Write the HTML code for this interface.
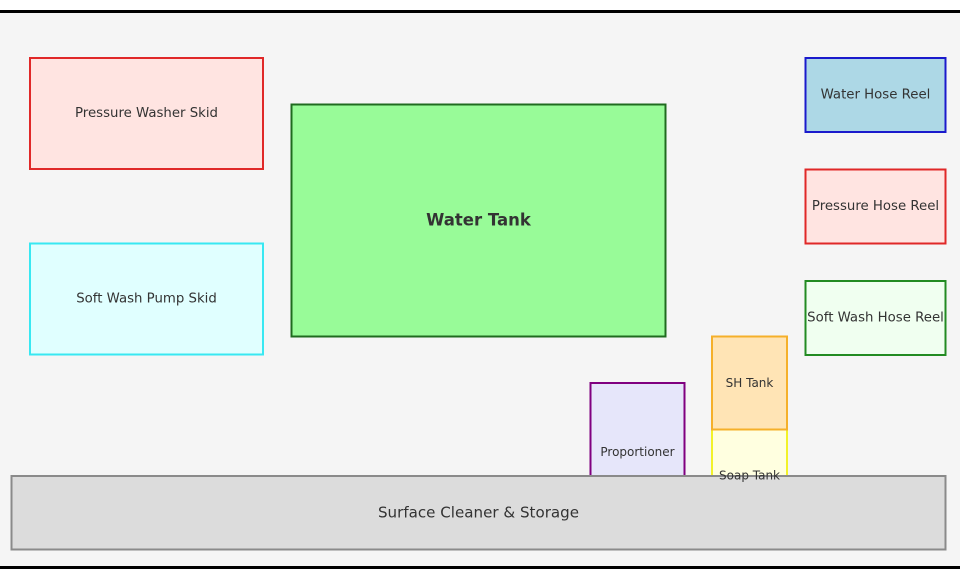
<!DOCTYPE html>
<html>
<head>
<meta charset="utf-8">
<style>
  html, body { margin: 0; padding: 0; background: #ffffff; }
  svg { display: block; }
  text { font-family: "DejaVu Sans", "Liberation Sans", sans-serif; fill: #333333; }
</style>
</head>
<body>
<svg width="960" height="580" viewBox="0 0 960 580" xmlns="http://www.w3.org/2000/svg">
  <rect x="0" y="0" width="960" height="580" fill="#ffffff"/>
  <!-- background panel -->
  <rect x="-5" y="11.5" width="970" height="556" fill="#f5f5f5" stroke="#000000" stroke-width="3"/>

  <!-- Pressure Washer Skid -->
  <rect x="30" y="58" width="233" height="111" fill="#ffe4e1" stroke="#e02828" stroke-width="2"/>
  <!-- Water Tank -->
  <rect x="291.5" y="104.5" width="374" height="232" fill="#98fb98" stroke="#1f6b1f" stroke-width="2"/>
  <!-- Soft Wash Pump Skid -->
  <rect x="30" y="243.5" width="233" height="111" fill="#e0ffff" stroke="#38e8f2" stroke-width="2"/>
  <!-- Water Hose Reel -->
  <rect x="805.5" y="58" width="140" height="74" fill="#add8e6" stroke="#1a1acc" stroke-width="2"/>
  <!-- Pressure Hose Reel -->
  <rect x="805.5" y="169.5" width="140" height="74" fill="#ffe4e1" stroke="#e02828" stroke-width="2"/>
  <!-- Soft Wash Hose Reel -->
  <rect x="805.5" y="281" width="140" height="74" fill="#f0fff0" stroke="#228b22" stroke-width="2"/>
  <!-- Proportioner -->
  <rect x="590.5" y="383" width="94" height="138" fill="#e6e6fa" stroke="#800080" stroke-width="2"/>
  <!-- Soap Tank -->
  <rect x="712" y="429.5" width="75" height="93" fill="#ffffe0" stroke="#f2f22a" stroke-width="2"/>
  <!-- SH Tank -->
  <rect x="712" y="336.5" width="75" height="93" fill="#ffe4b5" stroke="#f5b02a" stroke-width="2"/>
  <!-- Surface Cleaner & Storage -->
  <rect x="11.5" y="476" width="934" height="73.5" fill="#dcdcdc" stroke="#8a8a8a" stroke-width="2"/>

  <!-- labels -->
  <text x="146.5" y="113.5" font-size="13.3" text-anchor="middle" dominant-baseline="central">Pressure Washer Skid</text>
  <text x="478.5" y="220" font-size="16.5" font-weight="bold" text-anchor="middle" dominant-baseline="central">Water Tank</text>
  <text x="146.5" y="299" font-size="13.3" text-anchor="middle" dominant-baseline="central">Soft Wash Pump Skid</text>
  <text x="875.5" y="95" font-size="13.3" text-anchor="middle" dominant-baseline="central">Water Hose Reel</text>
  <text x="875.5" y="206.5" font-size="13.3" text-anchor="middle" dominant-baseline="central">Pressure Hose Reel</text>
  <text x="875.5" y="318" font-size="13.3" text-anchor="middle" dominant-baseline="central">Soft Wash Hose Reel</text>
  <text x="749.5" y="383" font-size="12" text-anchor="middle" dominant-baseline="central">SH Tank</text>
  <text x="637.5" y="452" font-size="12" text-anchor="middle" dominant-baseline="central">Proportioner</text>
  <text x="749.5" y="475.5" font-size="12" text-anchor="middle" dominant-baseline="central">Soap Tank</text>
  <text x="478.5" y="512.5" font-size="15.1" text-anchor="middle" dominant-baseline="central">Surface Cleaner &amp; Storage</text>
</svg>
</body>
</html>
